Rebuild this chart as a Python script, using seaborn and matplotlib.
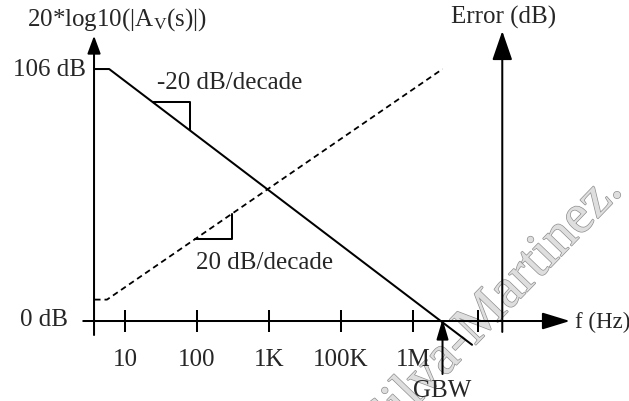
import numpy as np
import matplotlib
matplotlib.use("Agg")
import matplotlib.pyplot as plt
import matplotlib.patheffects as pe
import seaborn as sns

# Frequency axis: decade positions and their labels
freq_ticks = [1, 2, 3, 4, 5]
freq_labels = ["10", "100", "1K", "100K", "1M"]
extra_tick = 5.9
gbw_pos = 5.41

# Open-loop gain asymptote (dB) vs decade position
gain_x = [0.58, 0.78, 5.82]
gain_db = [106, 106, -10]

# Error curve (dB) vs decade position
err_x = [0.58, 0.75, 5.41]
err_db = [9, 9, 106]

# Axis placement in decade units
y_axis_x = 0.57
error_axis_x = 6.24
x_axis_start, x_axis_end = 0.42, 7.18

sns.set_theme(style="white")
plt.rcParams["font.family"] = ["Liberation Serif", "DejaVu Serif"]
plt.rcParams["mathtext.fontset"] = "custom"
plt.rcParams["mathtext.rm"] = "Liberation Serif"
plt.rcParams["mathtext.it"] = "Liberation Serif:italic"

fig = plt.figure(figsize=(6.29, 4.02), dpi=100)
ax = fig.add_axes([0, 0, 1, 1])
ax.set_xlim(-0.736, 8.0)
ax.set_ylim(-33.65, 135.46)
ax.axis("off")

FS = 18
LW = 1.45

def arrow(x0, y0, x1, y1, hl, hw):
    ax.annotate("", xy=(x1, y1), xytext=(x0, y0),
                arrowprops=dict(arrowstyle=f"-|>,head_length={hl},head_width={hw}",
                                mutation_scale=10, lw=LW, color="black",
                                shrinkA=0, shrinkB=0), zorder=5)

# Watermark
ax.text(6.11, 5.9, "Silva-Martinez.", fontsize=40, rotation=46,
        ha="center", va="center", color="#dedede", zorder=0,
        path_effects=[pe.Stroke(linewidth=1.0, foreground="#8f8f8f"), pe.Normal()])

# Axes with arrowheads
arrow(y_axis_x, -5.9, y_axis_x, 120.0, 1.08, 0.40)
arrow(error_axis_x, -4.6, error_axis_x, 122.0, 1.8, 0.62)
arrow(x_axis_start, 0, x_axis_end, 0, 1.7, 0.52)

# Decade ticks
ax.vlines(freq_ticks + [extra_tick], -4.7, 4.7, color="black", lw=LW, zorder=4)
for xt, lab in zip(freq_ticks, freq_labels):
    ax.text(xt, -16.0, lab, fontsize=FS, ha="center", va="center")

# Gain and error curves
sns.lineplot(x=gain_x, y=gain_db, ax=ax, color="black", lw=LW, sort=False,
             estimator=None, zorder=4)
sns.lineplot(x=err_x, y=err_db, ax=ax, color="black", lw=1.3, sort=False,
             estimator=None, linestyle=(0, (3.2, 2.2)), zorder=4)

# Slope triangles
t1a, t1b = 1.39, 1.90
y1 = np.interp(t1a, gain_x, gain_db)
ax.plot([t1a, t1b, t1b], [y1, y1, np.interp(t1b, gain_x, gain_db)],
        color="black", lw=LW, zorder=4)
t2a, t2b = 1.97, 2.49
y2 = np.interp(t2a, err_x, err_db)
ax.plot([t2a, t2b, t2b], [y2, y2, np.interp(t2b, err_x, err_db)],
        color="black", lw=LW, zorder=4)

# GBW marker
arrow(gbw_pos, -22.3, gbw_pos, 0.8, 1.22, 0.36)
ax.text(gbw_pos, -28.9, "GBW", fontsize=FS, ha="center", va="center")

# Labels
ax.text(0.89, 127.3, r"20*log10(|$\mathrm{A}_{\mathrm{V}}$(s)|)", fontsize=FS,
        ha="center", va="center")
ax.text(6.26, 128.0, "Error (dB)", fontsize=FS, ha="center", va="center")
ax.text(0.46, 106, "106 dB", fontsize=FS, ha="right", va="center")
ax.text(0.21, 0.8, "0 dB", fontsize=FS, ha="right", va="center")
ax.text(7.25, 0, "f (Hz)", fontsize=16.5, ha="left", va="center")
ax.text(1.44, 100.5, "-20 dB/decade", fontsize=FS, ha="left", va="center")
ax.text(1.99, 24.8, "20 dB/decade", fontsize=FS, ha="left", va="center")

fig.savefig("out.png", dpi=100, facecolor="white")
